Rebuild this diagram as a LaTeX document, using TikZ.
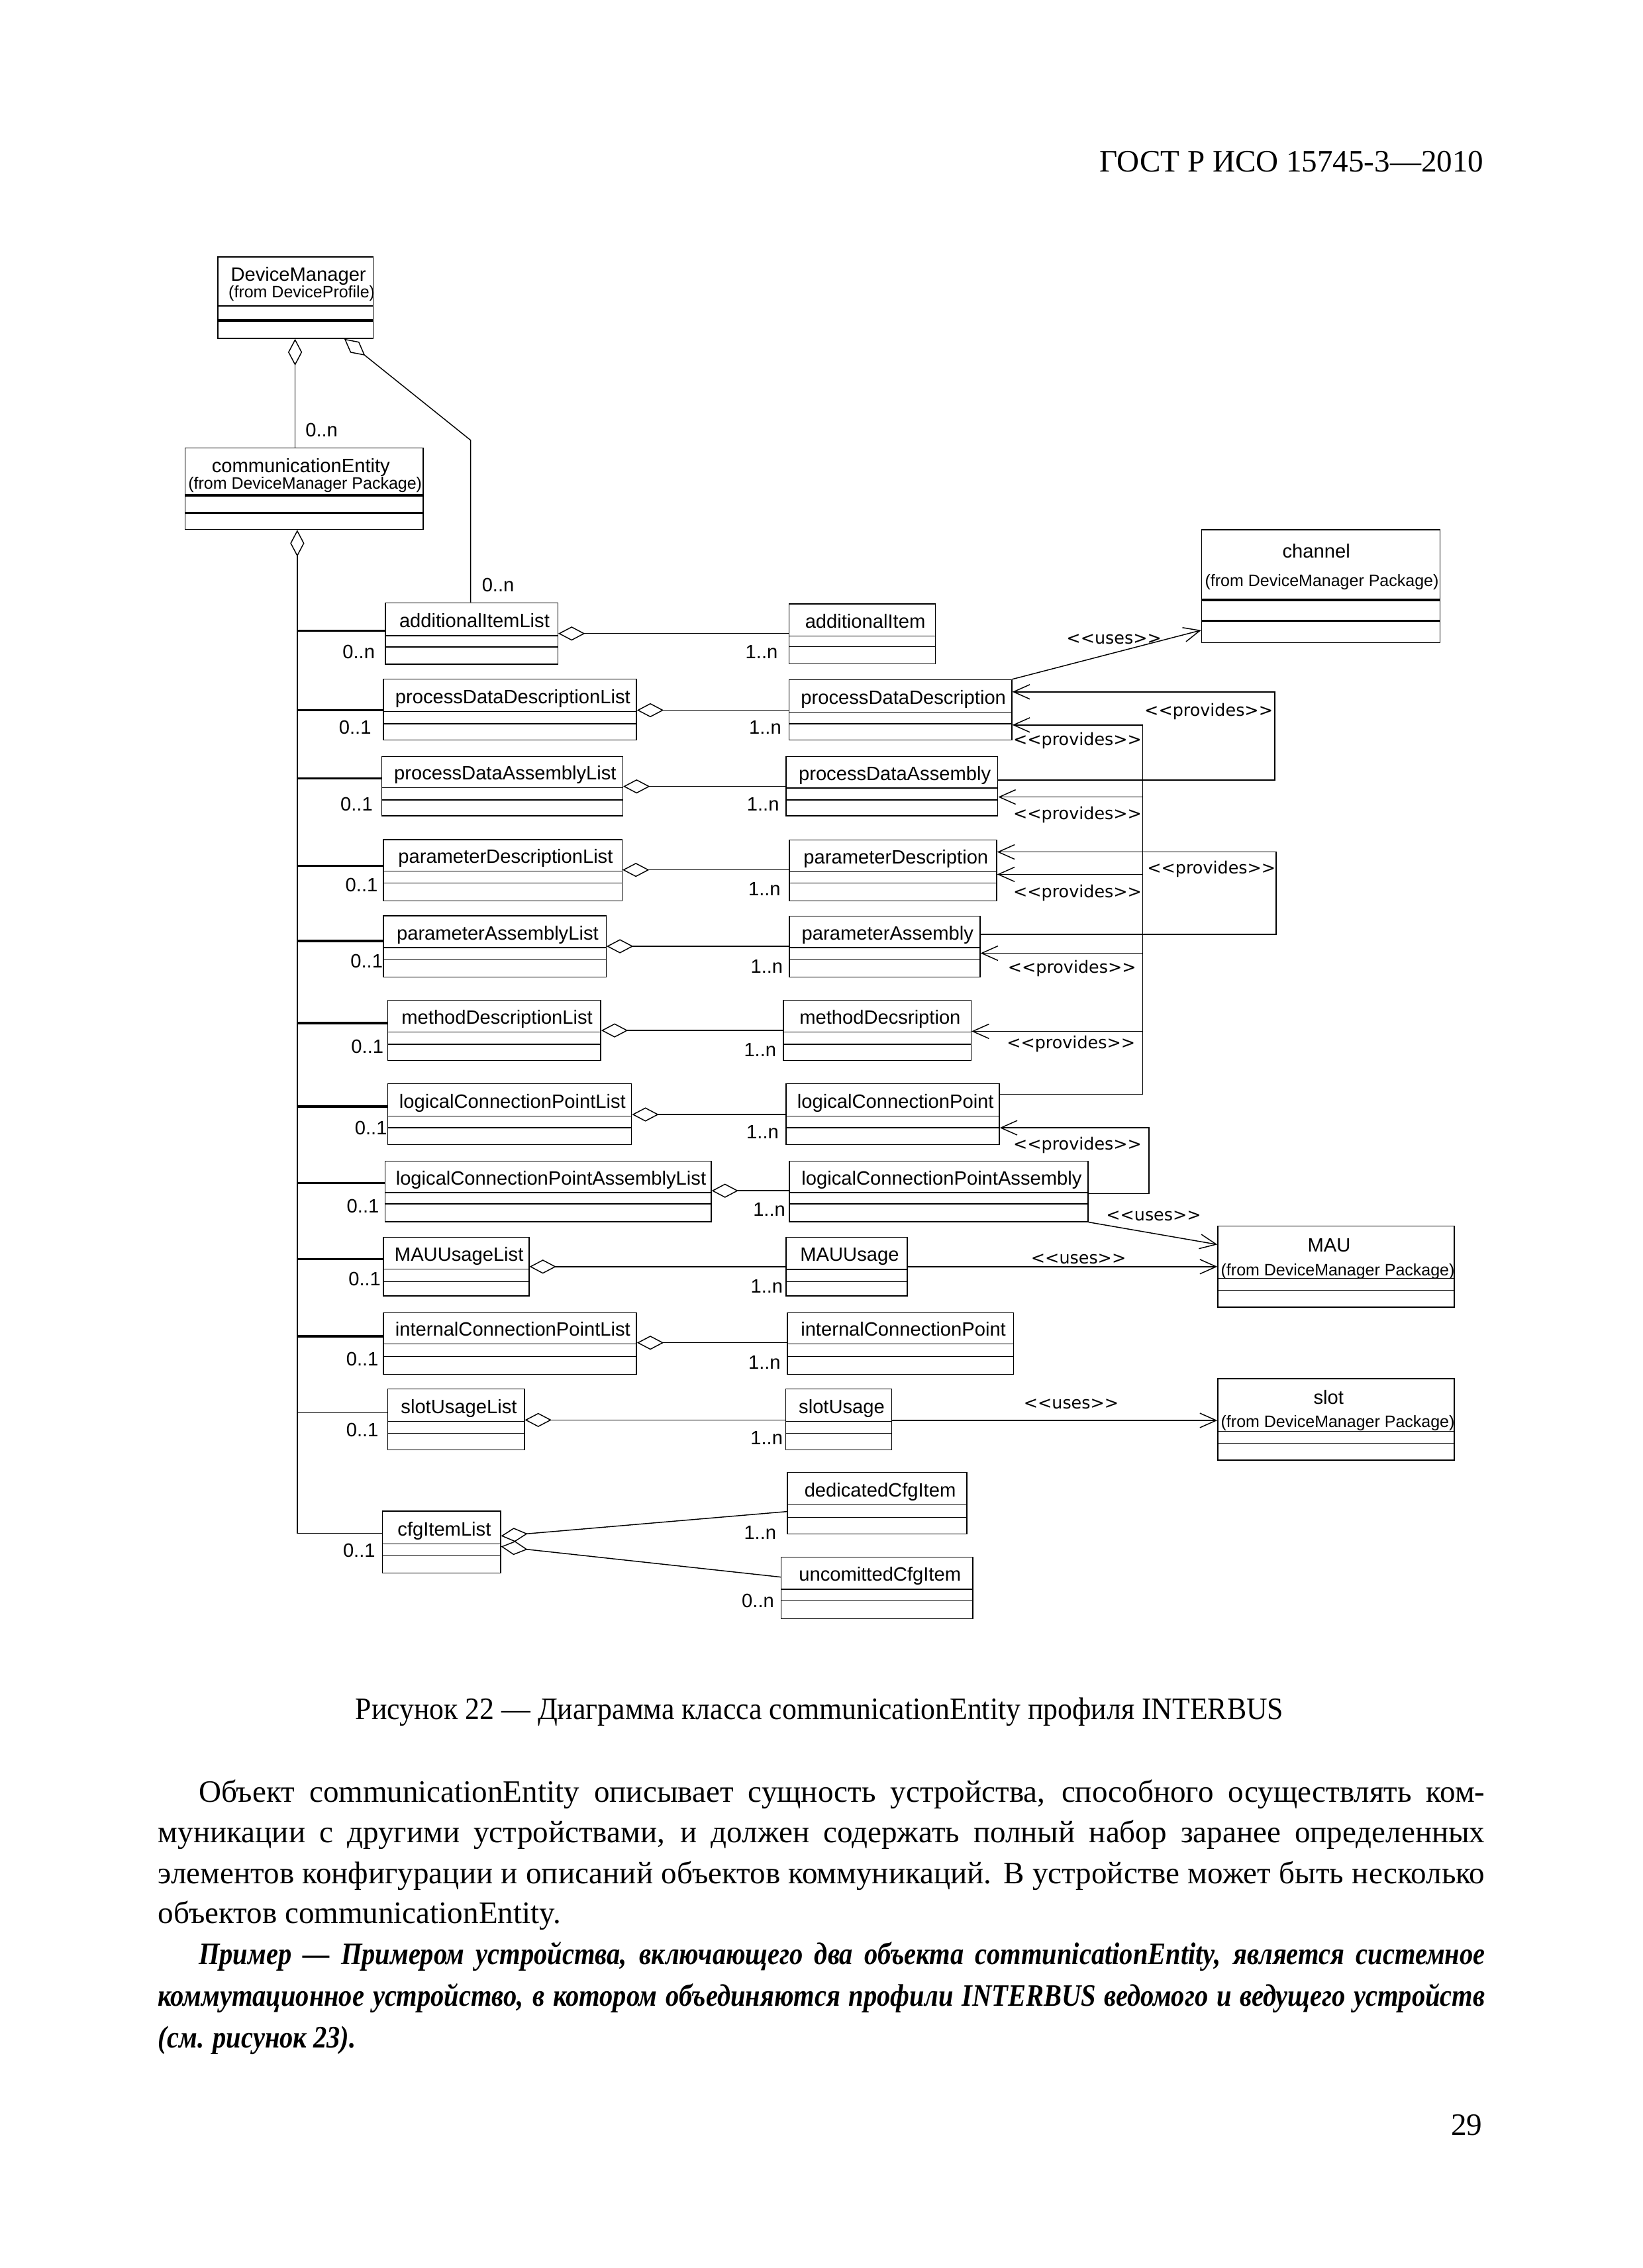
\documentclass[tikz,border=0pt]{standalone}
\usepackage{fontspec}
\setmainfont{Liberation Serif}
\newfontfamily\umlfont{Liberation Sans}
\newfontfamily\stereofont{DejaVu Sans}
\usetikzlibrary{arrows.meta,fit}

\tikzset{
  classbox/.style={draw, line width=0.35pt, inner sep=0pt},
  clsname/.style={font=\umlfont\fontsize{7}{8}\selectfont, anchor=base, inner sep=0pt},
  clsfrom/.style={font=\umlfont\fontsize{6}{7}\selectfont, anchor=base, inner sep=0pt},
  mult/.style={font=\umlfont\fontsize{7}{8}\selectfont, anchor=base east, inner sep=0pt},
  stereo/.style={font=\stereofont\fontsize{6.1}{7}\selectfont, anchor=base east, inner sep=0pt},
  aggr/.style={line width=0.35pt, {Diamond[open,length=9.7pt,width=5.1pt]}-},
  dep/.style={line width=0.35pt, -{Straight Barb[length=5.9pt,width=5.25pt]}},
  branch/.style={line width=0.8pt},
  thinline/.style={line width=0.35pt},
  thicksep/.style={line width=0.8pt},
  pagetext/.style={font=\fontsize{11.3}{14}\selectfont, inner sep=0pt},
  bodyline/.style={pagetext, anchor=base west},
  exampleline/.style={pagetext, anchor=base west, font=\fontsize{11.3}{14}\selectfont\bfseries\itshape},
}

% class box: id, left, top, right, bottom, separator 1, separator 2, name
\newcommand{\umlclass}[8]{%
  \node[classbox, fit={(#2,-#3) (#4,-#5)}] (#1) {};
  \draw[thinline] (#1.west |- 0,-#6) -- (#1.east |- 0,-#6);
  \draw[thinline] (#1.west |- 0,-#7) -- (#1.east |- 0,-#7);
  \node[clsname] (#1-name) at ({(#2+#4)/2+2},{-(#6-5.5)}) {#8};
}
% text lines of the page
\newcommand{\bodyfull}[1]{\hbox to 481pt{#1}}
\newcommand{\captionline}[1]{\scalebox{0.93}[1]{#1}}
\newcommand{\examplefull}[1]{\scalebox{0.86}[1]{\hbox to 559.3pt{#1}}}
\newcommand{\examplelast}[1]{\scalebox{0.86}[1]{#1}}

\begin{document}
\begin{tikzpicture}[x=0.5244pt, y=0.5244pt]
	\fill[white] (0,0) rectangle (1135.4,-1568);
	\useasboundingbox (0,0) rectangle (1135.4,-1568);
	
	% page head
	\node[pagetext, anchor=base east] (head) at (1026,-119) {ГОСТ Р ИСО 15745-3—2010};
	
	% classes
	\umlclass{dm}{150.6}{177.6}{258}{233.9}{211.5}{221.6}{}
	\draw[thicksep] (dm.west |- 0,-221.6) -- (dm.east |- 0,-221.6);
	\node[clsname] (dm-title) at (206.3,-194.5) {DeviceManager};
	\node[clsfrom] (dm-from) at (208.6,-206) {(from DeviceProfile)};
	
	\umlclass{ce}{128}{309.8}{292.5}{366}{342.5}{354.7}{}
	\draw[thicksep] (ce.west |- 0,-342.5) -- (ce.east |- 0,-342.5);
	\draw[thicksep] (ce.west |- 0,-354.7) -- (ce.east |- 0,-354.7);
	\node[clsname] (ce-title) at (208,-326.5) {communicationEntity};
	\node[clsfrom] (ce-from) at (210.9,-337.9) {(from DeviceManager Package)};
	
	\umlclass{ch}{830.7}{366.2}{995.4}{444.4}{414.8}{429.3}{}
	\draw[thicksep] (ch.west |- 0,-414.8) -- (ch.east |- 0,-414.8);
	\draw[thicksep] (ch.west |- 0,-429.3) -- (ch.east |- 0,-429.3);
	\node[clsname] (ch-title) at (910,-385.9) {channel};
	\node[clsfrom] (ch-from) at (913.8,-405.5) {(from DeviceManager Package)};
	
	\umlclass{mau}{841.9}{847.6}{1005.4}{903.7}{883.8}{892}{}
	\node[clsname] (mau-title) at (918.8,-865.4) {MAU};
	\node[clsfrom] (mau-from) at (924.8,-881.8) {(from DeviceManager Package)};
	
	\umlclass{slot}{841.9}{953.1}{1005.4}{1009.5}{989.5}{997.7}{}
	\node[clsname] (slot-title) at (918.5,-970.7) {slot};
	\node[clsfrom] (slot-from) at (924.8,-987) {(from DeviceManager Package)};
	
	\umlclass{ail}{266.4}{416.8}{385.6}{459.1}{439.4}{447.2}{additionalItemList}
	\umlclass{ai}{545.6}{417.5}{646.7}{459}{439.6}{447.1}{additionalItem}
	\umlclass{pddl}{265}{469.4}{440}{511.7}{492}{500.3}{processDataDescriptionList}
	\umlclass{pdd}{545.6}{469.9}{699.5}{511.7}{492.3}{500.4}{processDataDescription}
	\umlclass{pdal}{264}{523}{430.5}{564}{544.6}{553}{processDataAssemblyList}
	\umlclass{pda}{543.4}{523}{689.7}{564}{544.8}{553}{processDataAssembly}
	\umlclass{pdl}{265}{580.4}{430}{622.9}{602.3}{610.6}{parameterDescriptionList}
	\umlclass{pd}{545.7}{580.8}{689}{622.9}{602.6}{610.5}{parameterDescription}
	\umlclass{pal}{265}{633.2}{419}{675.5}{655.2}{663.2}{parameterAssemblyList}
	\umlclass{pa}{545.7}{633.3}{677.5}{675.5}{655.2}{663.2}{parameterAssembly}
	\umlclass{mdl}{268}{691.4}{415.3}{733.2}{713.5}{722}{methodDescriptionList}
	\umlclass{md}{541.5}{691.5}{671.3}{733.2}{713.5}{722}{methodDecsription}
	\umlclass{lcpl}{268}{749.2}{436.6}{791.3}{771.5}{779.7}{logicalConnectionPointList}
	\umlclass{lcp}{543.4}{749.2}{690.8}{791.4}{771.5}{779.7}{logicalConnectionPoint}
	\umlclass{lcpal}{266.2}{802.8}{491.6}{844.6}{824.6}{832.2}{logicalConnectionPointAssemblyList}
	\umlclass{lcpa}{545.8}{802.7}{752.2}{844.6}{824.6}{832.2}{logicalConnectionPointAssembly}
	\umlclass{mul}{265}{855.3}{365.7}{896}{877.4}{886}{MAUUsageList}
	\umlclass{mu}{543.4}{855.3}{627.3}{896}{877.6}{886}{MAUUsage}
	\umlclass{icpl}{265}{907.6}{440}{950.1}{929}{937.9}{internalConnectionPointList}
	\umlclass{icp}{544.4}{907.6}{700.6}{950.1}{929}{937.9}{internalConnectionPoint}
	\umlclass{sul}{268}{960.2}{362.5}{1002.3}{982.6}{990.9}{slotUsageList}
	\umlclass{su}{543.3}{960.2}{616.5}{1002.3}{982.6}{990.9}{slotUsage}
	\umlclass{cfg}{264.3}{1044.7}{346}{1087.4}{1067.3}{1075.5}{cfgItemList}
	\umlclass{dci}{544.4}{1018}{668.5}{1060.5}{1040.4}{1049}{dedicatedCfgItem}
	\umlclass{uci}{540}{1076.4}{672.6}{1119}{1098.7}{1106.3}{uncomittedCfgItem}
	
	% DeviceManager aggregations
	\coordinate (dmbend) at (325.3,-304.3);
	\draw[aggr] (dm.south -| 204,0) -- (ce.north -| 204,0);
	\draw[aggr] (dm.south -| 238,0) -- (dmbend) -- (ail.north -| dmbend);
	\node[mult, anchor=base west] (m-ce) at (210.8,-302) {0..n};
	\node[mult, anchor=base west] (m-ail) at (332.8,-409) {0..n};
	
	% communicationEntity tree
	\coordinate (trunk) at (205.5,-383);
	\draw[aggr] (ce.south -| trunk) |- (cfg.west |- 0,-1060);
	\draw[branch] (trunk |- 0,-436) -- (ail.west |- 0,-436);
	\draw[branch] (trunk |- 0,-491) -- (pddl.west |- 0,-491);
	\draw[branch] (trunk |- 0,-538) -- (pdal.west |- 0,-538);
	\draw[branch] (trunk |- 0,-598.6) -- (pdl.west |- 0,-598.6);
	\draw[branch] (trunk |- 0,-650.5) -- (pal.west |- 0,-650.5);
	\draw[branch] (trunk |- 0,-707.3) -- (mdl.west |- 0,-707.3);
	\draw[branch] (trunk |- 0,-765) -- (lcpl.west |- 0,-765);
	\draw[branch] (trunk |- 0,-818) -- (lcpal.west |- 0,-818);
	\draw[branch] (trunk |- 0,-870.5) -- (mul.west |- 0,-870.5);
	\draw[branch] (trunk |- 0,-923.8) -- (icpl.west |- 0,-923.8);
	\draw[thinline] (trunk |- 0,-976.8) -- (sul.west |- 0,-976.8);
	
	% list aggregations
	\draw[aggr] (ail.east |- 0,-438) -- (ai.west |- 0,-438);
	\draw[aggr] (pddl.east |- 0,-491) -- (pdd.west |- 0,-491);
	\draw[aggr] (pdal.east |- 0,-543.7) -- (pda.west |- 0,-543.7);
	\draw[aggr] (pdl.east |- 0,-601.4) -- (pd.west |- 0,-601.4);
	\draw[aggr] (pal.east |- 0,-654.2) -- (pa.west |- 0,-654.2);
	\draw[aggr] (mdl.east |- 0,-712.4) -- (md.west |- 0,-712.4);
	\draw[aggr] (lcpl.east |- 0,-770.5) -- (lcp.west |- 0,-770.5);
	\draw[aggr] (lcpal.east |- 0,-823.2) -- (lcpa.west |- 0,-823.2);
	\draw[aggr] (mul.east |- 0,-875.7) -- (mu.west |- 0,-875.7);
	\draw[aggr] (icpl.east |- 0,-928.3) -- (icp.west |- 0,-928.3);
	\draw[aggr] (sul.east |- 0,-981.7) -- (su.west |- 0,-981.7);
	\draw[aggr] (cfg.east |- 0,-1061.9) -- (dci.west |- 0,-1045);
	\draw[aggr] (cfg.east |- 0,-1069.2) -- (uci.west |- 0,-1090.3);
	
	% multiplicities
	\node[mult] (m1a) at (259.5,-455.5) {0..n};
	\node[mult] (m1b) at (538,-455.5) {1..n};
	\node[mult] (m2a) at (257,-507.6) {0..1};
	\node[mult] (m2b) at (540.5,-507.6) {1..n};
	\node[mult] (m3a) at (258,-560.7) {0..1};
	\node[mult] (m3b) at (539,-560.7) {1..n};
	\node[mult] (m4a) at (261.5,-616.4) {0..1};
	\node[mult] (m4b) at (540,-619.3) {1..n};
	\node[mult] (m5a) at (265,-669.3) {0..1};
	\node[mult] (m5b) at (541.6,-672.6) {1..n};
	\node[mult] (m6a) at (265.5,-728) {0..1};
	\node[mult] (m6b) at (537,-730.2) {1..n};
	\node[mult] (m7a) at (268,-784.4) {0..1};
	\node[mult] (m7b) at (538.7,-787.4) {1..n};
	\node[mult] (m8a) at (262.4,-838.5) {0..1};
	\node[mult] (m8b) at (543.3,-840.6) {1..n};
	\node[mult] (m9a) at (263.6,-888.6) {0..1};
	\node[mult] (m9b) at (541.6,-893.7) {1..n};
	\node[mult] (m10a) at (262,-944.3) {0..1};
	\node[mult] (m10b) at (540,-946.5) {1..n};
	\node[mult] (m11a) at (262,-993.2) {0..1};
	\node[mult] (m11b) at (541.5,-998.6) {1..n};
	\node[mult] (m12a) at (259.8,-1076.3) {0..1};
	\node[mult] (m12b) at (537,-1064) {1..n};
	\node[mult] (m12c) at (535.5,-1111.4) {0..n};
	
	% provides
	\coordinate (spinetop) at (790,-501.2);
	\draw[dep] (lcp.east |- 0,-756.5) -| (spinetop) -- (pdd.east |- spinetop);
	\draw[dep] (spinetop |- 0,-551) -- (pda.east |- 0,-551);
	\draw[dep] (spinetop |- 0,-604.5) -- (pd.east |- 0,-604.5);
	\draw[dep] (spinetop |- 0,-659) -- (pa.east |- 0,-659);
	\draw[dep] (spinetop |- 0,-713) -- (md.east |- 0,-713);
	\draw[dep] (pda.east |- 0,-539.2) -| (881.2,-478.3) -- (pdd.east |- 0,-478.3);
	\draw[dep] (pa.east |- 0,-645.9) -| (882.2,-589) -- (pd.east |- 0,-589);
	\draw[dep] (lcpa.east |- 0,-825.2) -| (794.2,-779.7) -- (lcp.east |- 0,-779.7);
	\node[stereo] (p1) at (880.3,-495) {<{}<provides>{}>};
	\node[stereo] (p2) at (789.6,-515.3) {<{}<provides>{}>};
	\node[stereo] (p3) at (789.6,-566.6) {<{}<provides>{}>};
	\node[stereo] (p4) at (882.2,-604.2) {<{}<provides>{}>};
	\node[stereo] (p5) at (789.6,-620.4) {<{}<provides>{}>};
	\node[stereo] (p6) at (785.8,-672.8) {<{}<provides>{}>};
	\node[stereo] (p7) at (785.1,-725) {<{}<provides>{}>};
	\node[stereo] (p8) at (789.6,-795) {<{}<provides>{}>};
	
	% uses
	\draw[dep] (pdd.north east) -- (ch.west |- 0,-435.7);
	\draw[dep] (lcpa.south east) -- (mau.west |- 0,-860.4);
	\draw[dep] (mu.east |- 0,-875.7) -- (mau.west |- 0,-875.7);
	\draw[dep] (su.east |- 0,-982) -- (slot.west |- 0,-982);
	\node[stereo] (u1) at (803.3,-445) {<{}<uses>{}>};
	\node[stereo] (u2) at (830.7,-844) {<{}<uses>{}>};
	\node[stereo] (u3) at (778.8,-873.7) {<{}<uses>{}>};
	\node[stereo] (u4) at (773.7,-973.8) {<{}<uses>{}>};
	
	% caption and text
	\node[pagetext, anchor=base] (caption) at (566.5,-1188.5) {\captionline{Рисунок 22 — Диаграмма класса communicationEntity профиля INTERBUS}};
	\node[bodyline] (t1) at (109,-1246) {\bodyfull{\hspace*{14.7pt}Объект communicationEntity описывает сущность устройства, способного осуществлять ком-}};
	\node[bodyline] (t2) at (109,-1274) {\bodyfull{муникации с другими устройствами, и должен содержать полный набор заранее определенных}};
	\node[bodyline] (t3) at (109,-1302) {\bodyfull{элементов конфигурации и описаний объектов коммуникаций. В устройстве может быть несколько}};
	\node[bodyline] (t4) at (109,-1329.5) {объектов communicationEntity.};
	\node[exampleline] (e1) at (109,-1358) {\examplefull{\hspace*{17.1pt}Пример — Примером устройства, включающего два объекта communicationEntity, является системное}};
	\node[exampleline] (e2) at (109,-1387) {\examplefull{коммутационное устройство, в котором объединяются профили INTERBUS ведомого и ведущего устройств}};
	\node[exampleline] (e3) at (109,-1415.6) {\examplelast{(см. рисунок 23).}};
	
	\node[pagetext, anchor=base east] (pageno) at (1025,-1476) {29};
\end{tikzpicture}
\end{document}
